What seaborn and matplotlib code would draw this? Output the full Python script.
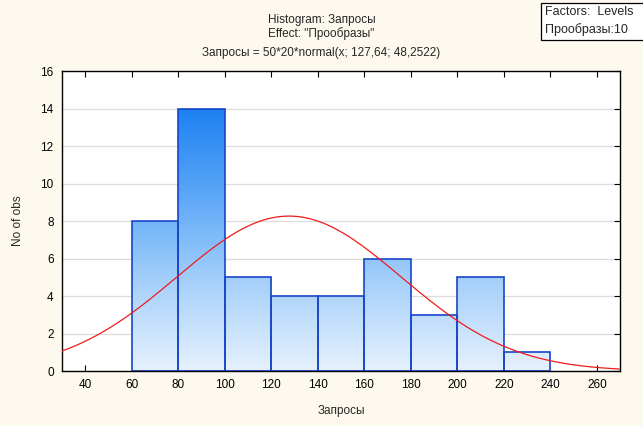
import numpy as np
import pandas as pd
import matplotlib
matplotlib.use("Agg")
import matplotlib.pyplot as plt
import seaborn as sns
from matplotlib.colors import LinearSegmentedColormap
from matplotlib.patches import Rectangle

# bin edges and counts for "Запросы"
bin_edges = [60, 80, 100, 120, 140, 160, 180, 200, 220, 240]
counts = [8, 14, 5, 4, 4, 6, 3, 5, 1]
n_obs = 50
bin_width = 20
mu, sigma = 127.64, 48.2522
x_ticks = [40, 60, 80, 100, 120, 140, 160, 180, 200, 220, 240, 260]
y_ticks = [0, 2, 4, 6, 8, 10, 12, 14, 16]

sns.set_theme(style="white")
plt.rcParams["font.family"] = ["Liberation Sans", "DejaVu Sans"]

W, H = 643, 426
fig = plt.figure(figsize=(6.43, 4.26), dpi=100, facecolor="#fdf9ef")
ax = fig.add_axes([0.0964, 0.129, 0.868, 0.704])
ax.set_facecolor("white")

centers = [(a + b) / 2 for a, b in zip(bin_edges[:-1], bin_edges[1:])]
df = pd.DataFrame({"x": centers, "n": counts})
sns.histplot(data=df, x="x", weights="n", bins=bin_edges, ax=ax,
             facecolor="none", edgecolor="#1846c8", linewidth=1.2, alpha=1)

ax.set_xlim(30, 270)
ax.set_ylim(0, 16)

# vertical gradient fill clipped to each bar
cmap = LinearSegmentedColormap.from_list("g", ["#e6f1fd", "#a6d0fa", "#5aa6f7", "#1a7ff2"])
grad = np.linspace(0, 1, 256).reshape(-1, 1)
for patch in list(ax.patches):
    im = ax.imshow(grad, extent=[30, 270, 0, 14.2], origin="lower", aspect="auto",
                   cmap=cmap, zorder=patch.get_zorder() - 0.1)
    im.set_clip_path(patch)
ax.set_xlim(30, 270)
ax.set_ylim(0, 16)

# expected normal curve
xs = np.linspace(30, 270, 400)
ys = n_obs * bin_width * np.exp(-0.5 * ((xs - mu) / sigma) ** 2) / (sigma * np.sqrt(2 * np.pi))
ax.plot(xs, ys, color="#ee1c1c", linewidth=0.9, zorder=5)

ax.set_xticks(x_ticks)
ax.set_yticks(y_ticks)
ax.yaxis.grid(True, color="#dcdcdc", linewidth=0.9)
ax.set_axisbelow(True)
ax.tick_params(axis="both", direction="in", length=4, width=0.8, labelsize=8.5,
               colors="black", top=True, right=True, bottom=True, left=False)
ax.tick_params(axis="x", pad=6)
ax.tick_params(axis="y", pad=6)
for s in ax.spines.values():
    s.set_color("black")
    s.set_linewidth(1.0)
ax.set_xlabel("Запросы", fontsize=8.5, labelpad=10)
ax.set_ylabel("No of obs", fontsize=8.5, labelpad=12)

fig.text(0.5, 1 - 20 / H, "Histogram: Запросы", ha="center", va="center", fontsize=8.5)
fig.text(0.5, 1 - 34 / H, 'Effect: "Прообразы"', ha="center", va="center", fontsize=8.5)
fig.text(0.5, 1 - 53 / H, "Запросы = 50*20*normal(x; 127,64; 48,2522)", ha="center", va="center", fontsize=8.5)

# factor levels box in the top-right corner
fig.add_artist(Rectangle((541 / W, 1 - 40 / H), 110 / W, 37 / H, transform=fig.transFigure,
                         facecolor="white", edgecolor="black", linewidth=0.9))
fig.text(545 / W, 1 - 12 / H, "Factors:  Levels", ha="left", va="center", fontsize=9)
fig.text(545 / W, 1 - 30 / H, "Прообразы:10", ha="left", va="center", fontsize=9)

fig.savefig("out.png", dpi=100, facecolor=fig.get_facecolor())
